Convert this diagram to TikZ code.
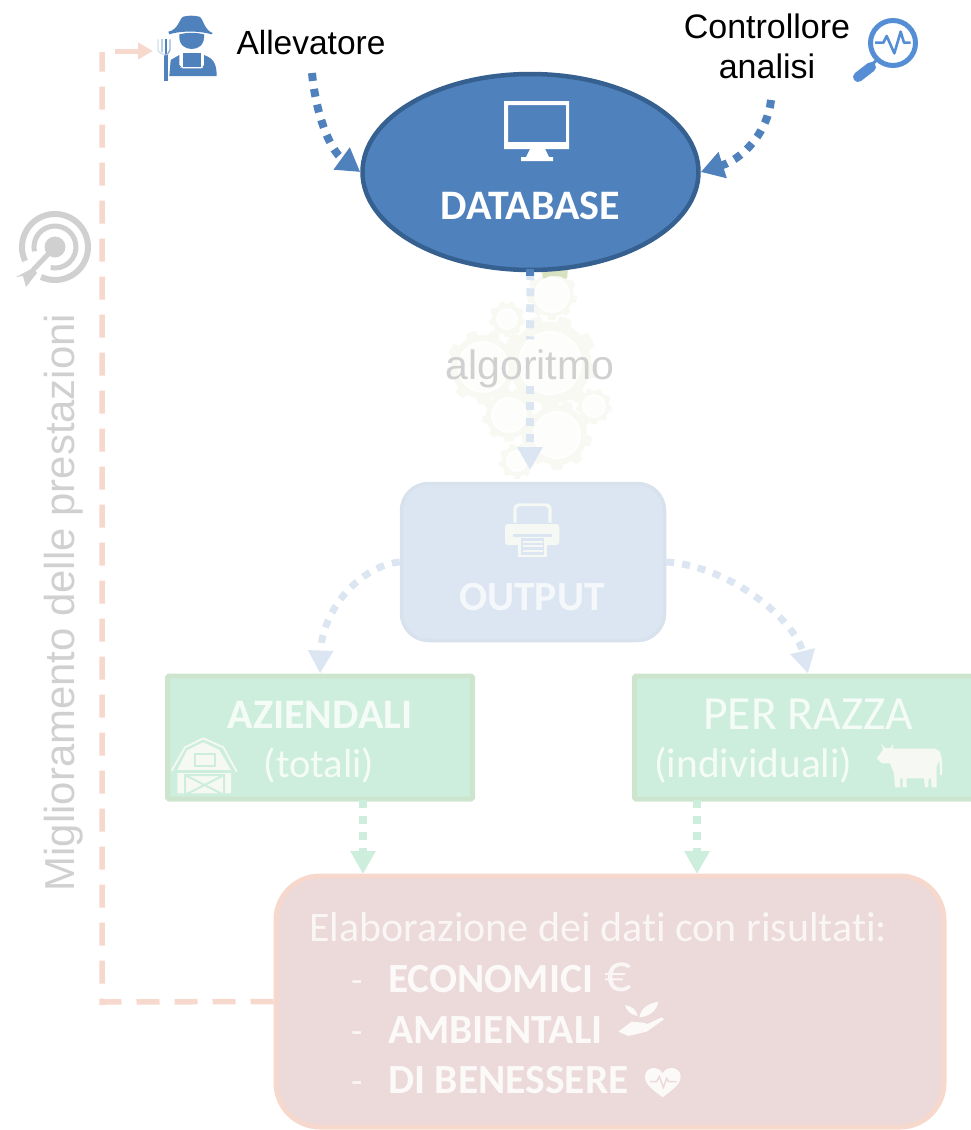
\documentclass[tikz,border=0pt]{standalone}
\usepackage{fontspec}
\setmainfont{Liberation Sans}
\newfontfamily\calibrifont[Ligatures=NoCommon]{Carlito}
\usetikzlibrary{shapes.geometric,arrows.meta}
\definecolor{dbfill}{HTML}{4F81BD}
\definecolor{dbline}{HTML}{35608F}
\definecolor{magblue}{HTML}{558ED5}
\definecolor{outfill}{HTML}{DCE6F2}
\definecolor{outline}{HTML}{D8E2EC}
\definecolor{grfill}{HTML}{CDEEDC}
\definecolor{grline}{HTML}{CDE5CF}
\definecolor{pkfill}{HTML}{ECD9DA}
\definecolor{pkline}{HTML}{F6D8CC}
\definecolor{gearc}{HTML}{F8F9F3}
\definecolor{geartop}{HTML}{D6E2C0}
\definecolor{greytxt}{HTML}{D0D0D0}
\definecolor{whitish}{HTML}{F6F8F3}
\newcommand{\gearshape}[4]{% x,y,outer,ring
 \begin{scope}[shift={(#1,#2)}]
 \fill[gearc] plot[domain=0:360,samples=121] (\x:{#3*0.86+#3*0.14*(sin(9*\x)>0?1:0)}) -- cycle;
 \draw[white,line width=1.8pt,fill=white!70!gearc] (0,0) circle[radius=#4];
 \end{scope}}
\tikzset{
 dots/.style={line width=7pt,dash pattern=on 8pt off 8pt},
 blue dots/.style={dots,line width=8pt,dbfill,-{Triangle[length=23pt,width=26pt]}},
 pale dots/.style={dots,outfill,-{Triangle[length=23pt,width=24pt]}},
 green dots/.style={dots,line width=8pt,grfill,-{Triangle[length=23pt,width=24pt]}},
 backline/.style={pkline,line width=5.5pt,dash pattern=on 23pt off 15pt},
 boxtext/.style={text=white,font=\calibrifont,inner sep=0pt,anchor=base},
 arial/.style={inner sep=0pt,anchor=base},
 zf/.style={x=0.33333pt,y=-0.33333pt},
}
\begin{document}
\begin{tikzpicture}[x=1pt,y=-1pt]
\useasboundingbox (0,0) rectangle (971,1130);
% gears
\gearshape{550}{363}{48}{31}
\gearshape{552}{295}{25}{17}
\gearshape{507}{319}{18}{10}
\gearshape{483}{367}{37}{25}
\gearshape{509}{415}{27}{17}
\gearshape{594}{406}{18}{11}
\gearshape{557}{435}{35}{23}
\gearshape{517}{461}{18}{10}
\fill[geartop,rounded corners=3pt] (542,268) -- (568,268) -- (567,280) -- (560,276) -- (548,276) -- (543,280) -- cycle;
% main nodes
\node[ellipse,draw=dbline,fill=dbfill,line width=4.5pt,minimum width=336pt,minimum height=196pt,inner sep=0pt] (db) at (530.5,172) {};
\node[draw=outline,fill=outfill,line width=3.5pt,rounded corners=27pt,minimum width=263pt,minimum height=157pt,inner sep=0pt] (out) at (533,562) {};
\node[draw=grline,fill=grfill,line width=5pt,rounded corners=1.5pt,minimum width=305pt,minimum height=123pt,inner sep=0pt] (az) at (320,737.5) {};
\node[draw=grline,fill=grfill,line width=5pt,rounded corners=1.5pt,minimum width=347pt,minimum height=123pt,inner sep=0pt] (rz) at (808,737.5) {};
\node[draw=pkline,fill=pkfill,line width=5pt,rounded corners=44pt,minimum width=668pt,minimum height=251pt,inner sep=0pt] (el) at (610,1001.5) {};
% text
\node[arial,font=\fontsize{33.5}{33.5}\selectfont] (allev) at (311,54) {Allevatore};
\node[arial,font=\fontsize{34}{34}\selectfont] (ctrl1) at (767,38) {Controllore};
\node[arial,font=\fontsize{34}{34}\selectfont] (ctrl2) at (767,78) {analisi};
\node[boxtext,font=\calibrifont\bfseries\fontsize{42}{42}\selectfont] (dbt) at (530.5,219) {DATABASE};
\node[boxtext,text=white!70!outfill,font=\calibrifont\bfseries\fontsize{41.5}{41.5}\selectfont] (outt) at (532,610) {OUTPUT};
\node[boxtext,text=white!80!grfill,font=\calibrifont\bfseries\fontsize{42}{42}\selectfont] (azt1) at (320,728) {AZIENDALI};
\node[boxtext,text=white!80!grfill,font=\calibrifont\fontsize{40.6}{40.6}\selectfont] (azt2) at (319,777) {(totali)};
\node[boxtext,text=white!80!grfill,font=\calibrifont\fontsize{47.6}{47.6}\selectfont] (rzt1) at (808,729) {PER RAZZA};
\node[boxtext,text=white!80!grfill,font=\calibrifont\fontsize{41.4}{41.4}\selectfont] (rzt2) at (753.5,777) {(individuali)};
\node[boxtext,anchor=base west,text=white!75!pkfill,font=\calibrifont\fontsize{42}{42}\selectfont] (el0) at (309,941) {Elaborazione dei dati con risultati:};
\node[boxtext,anchor=base west,text=white!75!pkfill,font=\calibrifont\fontsize{37}{37}\selectfont] (d1) at (351,992) {-};
\node[boxtext,anchor=base west,text=white!75!pkfill,font=\calibrifont\fontsize{37}{37}\selectfont] (d2) at (351,1043) {-};
\node[boxtext,anchor=base west,text=white!75!pkfill,font=\calibrifont\fontsize{37}{37}\selectfont] (d3) at (351,1093) {-};
\node[boxtext,anchor=base west,text=white!85!pkfill,font=\calibrifont\bfseries\fontsize{41.5}{41.5}\selectfont] (el1) at (388,992) {ECONOMICI};
\node[boxtext,anchor=base west,text=white!85!pkfill,font=\calibrifont\bfseries\fontsize{41.5}{41.5}\selectfont] (el2) at (388,1043) {AMBIENTALI};
\node[boxtext,anchor=base west,text=white!85!pkfill,font=\calibrifont\bfseries\fontsize{41.5}{41.5}\selectfont] (el3) at (388,1093) {DI BENESSERE};
\node[boxtext,anchor=base west,text=white!75!pkfill,font=\calibrifont\fontsize{54}{54}\selectfont] (euro) at (604,991) {€};
\node[inner sep=0pt,text=greytxt,font=\fontsize{41}{41}\selectfont,anchor=center,minimum height=46pt,minimum width=170pt] (algo) at (530,362.5) {\raisebox{-16.5pt}[0pt][0pt]{algoritmo}};
\node[inner sep=0pt,text=greytxt,font=\fontsize{41.9}{41.9}\selectfont,rotate=90,anchor=base] (migl) at (74,602.5) {Miglioramento delle prestazioni};
% free ends
\coordinate (a1) at (312,73);
\coordinate (c1) at (771,100);
\coordinate (outin) at (530,470);
\coordinate (azs) at (363,800);
\coordinate (el1in) at (363,874);
\coordinate (rzs) at (697,800);
\coordinate (el2in) at (697,874);
\coordinate (corner1) at (102,1002);
\coordinate (corner2) at (102,52);
\coordinate (arr0) at (115,51);
\coordinate (farmer) at (153,51);
% connectors
\draw[blue dots] (a1) .. controls (316,115) and (330,150) .. (db.west);
\draw[blue dots] (c1) .. controls (768,130) and (745,158) .. (db.east);
\draw[dots,line width=8pt,outfill] (db.south) -- (algo.north);
\fill[dbfill] (526,269) rectangle (534,276);
\draw[dots,line width=8pt,outfill,-{Triangle[length=23pt,width=24pt]}] (algo.south) -- (outin);
\draw[pale dots] (out.west) .. controls (360,566) and (322,610) .. (az.north);
\draw[pale dots] (out.east) .. controls (730,566) and (795,620) .. (rz.north);
\draw[green dots] (azs) -- (el1in);
\draw[green dots] (rzs) -- (el2in);
\draw[backline] (el.west) -- (corner1) -- (corner2);
\draw[pkline,line width=5pt,-{Triangle[length=15pt,width=16pt]}] (arr0) -- (farmer);
% farmer
\begin{scope}[shift={(100,0)},zf]
 \fill[dbfill] (205,95) .. controls (235,90) and (238,55) .. (250,50) .. controls (262,46) and (285,46) .. (298,50) .. controls (310,55) and (312,90) .. (338,99) -- (335,103) .. controls (300,92) and (240,92) .. (208,103) -- cycle;
 \fill[dbfill] (238,103) .. controls (262,97) and (288,97) .. (312,103) .. controls (315,135) and (295,147) .. (275,147) .. controls (255,147) and (235,135) .. (238,103) -- cycle;
 \fill[dbfill] (248,160) rectangle (303,200);
 \fill[dbfill] (212,180) -- (238,165) -- (238,195) -- (248,205) -- (305,205) -- (312,195) -- (312,165) .. controls (340,175) and (350,190) .. (350,228) -- (208,228) -- cycle;
 \fill[white!70!dbfill] (243,202) circle[radius=2.5] (307,202) circle[radius=2.5];
 \fill[dbfill] (193,165) rectangle (204,243);
 \draw[dbfill,line width=1.6pt] (198,118) -- (198,170);
 \draw[dbfill!60!white,line width=1.4pt] (210,118) -- (210,150) .. controls (210,158) and (200,162) .. (198,165);
 \draw[dbfill!25!white,line width=1.4pt] (174,118) -- (174,150) .. controls (174,158) and (190,162) .. (196,165);
 \draw[dbfill!40!white,line width=1.4pt] (186,118) -- (186,155);
\end{scope}
% magnifier
\draw[magblue,line width=5pt] (893,43) circle[radius=22.5];
\draw[magblue,line width=10pt,line cap=round] (871,67) -- (858,77);
\draw[magblue,line width=3pt] (877,60) -- (870,66);
\begin{scope}[shift={(660,0)},zf]
 \draw[magblue,line width=2.6pt,line join=round] (645,128) -- (670,128) -- (680,108) -- (703,160) -- (722,95) -- (732,128) -- (752,128);
\end{scope}
% monitor
\fill[white,even odd rule] (504,101) rectangle (569,149) (508,105) rectangle (566,142);
\fill[white] (530,149) -- (545,149) -- (549,157) -- (553,157) -- (553,161) -- (521,161) -- (521,157) -- (526,157) -- cycle;
% printer
\begin{scope}[shift={(300,470)},zf]
 \fill[whitish] (640,158) -- (640,118) .. controls (640,105) and (650,100) .. (660,100) -- (735,100) .. controls (745,100) and (755,105) .. (755,118) -- (755,158) -- (745,158) -- (745,115) -- (735,108) -- (660,108) -- (650,115) -- (650,158) -- cycle;
 \fill[whitish,rounded corners=3pt] (615,162) rectangle (778,225);
 \fill[outfill] (640,192) rectangle (755,200);
 \fill[whitish] (655,200) rectangle (740,262);
 \fill[outfill] (663,205) rectangle (732,255);
 \foreach \yy in {212,226,240} \fill[whitish] (668,\yy) rectangle (728,\yy+6);
\end{scope}
% barn
\begin{scope}[shift={(160,660)},zf]
 \draw[whitish,line width=1.8pt,line join=round] (35,332) -- (75,262) -- (130,235) -- (190,262) -- (230,335);
 \fill[whitish] (52,400) -- (52,330) -- (82,270) -- (130,247) -- (178,270) -- (213,330) -- (213,400) -- cycle;
 \draw[grfill,line width=2pt] (105,282) rectangle (165,318);
 \fill[grfill] (52,330) rectangle (213,338);
 \draw[grfill,line width=2pt] (75,345) rectangle (192,405) (75,345) -- (192,405) (192,345) -- (75,405);
\end{scope}
% cow
\begin{scope}[shift={(620,660)},zf]
 \fill[whitish] (770,295) -- (790,268) -- (783,250) -- (795,264) -- (812,264) -- (820,248) -- (818,266) -- (945,266) -- (960,275) -- (966,300) -- (966,345) -- (960,345) -- (958,300) -- (950,320) -- (950,382) -- (935,382) -- (933,352) -- (925,360) -- (925,382) -- (915,382) -- (912,355) -- (860,355) -- (860,382) -- (848,382) -- (848,355) -- (840,355) -- (840,382) -- (825,382) -- (822,340) -- (810,310) -- (785,310) -- cycle;
\end{scope}
% target
\begin{scope}[shift={(55,247)}]
 \draw[greytxt,line width=6pt] (155:33) arc[start angle=155,end angle=475,x radius=33,y radius=33];
 \draw[greytxt,line width=5pt] (168:21) arc[start angle=168,end angle=462,x radius=21,y radius=21];
 \fill[greytxt] (0,0) circle[radius=10.5];
 \draw[greytxt,line width=5pt] (0,0) -- (-22,23);
 \fill[greytxt] (-22,21) -- (-39,30) -- (-32,29) -- (-29,40) -- (-18,26) -- cycle;
\end{scope}
% sprout, heart
\begin{scope}[shift={(270,880)},zf]
 \fill[white!85!pkfill] (1045,455) -- (1085,425) -- (1120,428) -- (1132,432) -- (1175,412) -- (1182,418) -- (1130,455) -- (1075,468) -- cycle;
 \fill[white!85!pkfill] (1108,412) .. controls (1112,385) and (1135,370) .. (1165,365) .. controls (1160,395) and (1135,410) .. (1108,412) -- cycle;
 \fill[white!85!pkfill] (1065,375) .. controls (1085,378) and (1100,390) .. (1103,408) .. controls (1085,405) and (1070,395) .. (1065,375) -- cycle;
 \fill[white!85!pkfill] (1178,652) .. controls (1150,630) and (1125,615) .. (1125,590) .. controls (1125,560) and (1165,555) .. (1178,580) .. controls (1190,555) and (1232,560) .. (1232,590) .. controls (1232,615) and (1205,630) .. (1178,652) -- cycle;
 \draw[pkfill,line width=1.5pt] (1140,605) -- (1160,605) -- (1168,590) -- (1180,622) -- (1190,595) -- (1196,605) -- (1220,605);
\end{scope}
\end{tikzpicture}
\end{document}
